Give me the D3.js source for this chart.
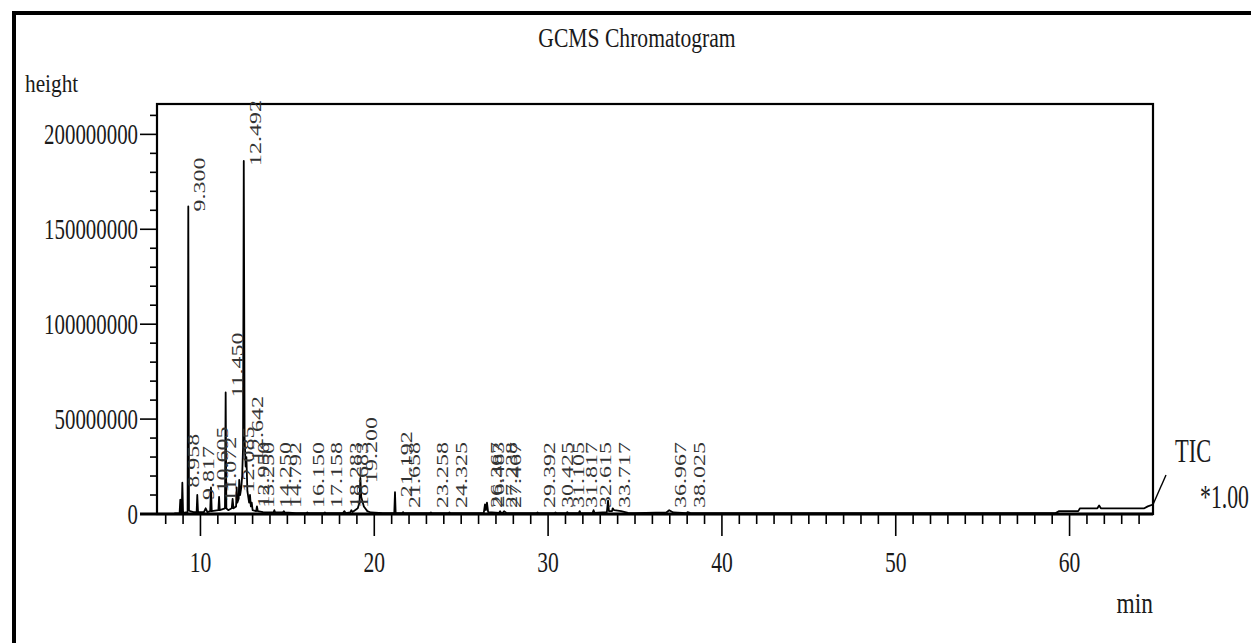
<!DOCTYPE html>
<html>
<head>
<meta charset="utf-8">
<script src="https://cdn.jsdelivr.net/npm/d3@7"></script>
<style>
  html, body { margin: 0; padding: 0; background: #fff; }
  svg { display: block; }
  text { font-family: "Liberation Serif", "DejaVu Serif", serif; fill: #1a1a1a; }
</style>
</head>
<body>
<svg id="chart" width="1251" height="643"></svg>
<script>
// ---------------- DATA ----------------
const title = "GCMS Chromatogram";
const yAxisTitle = "height";
const xAxisTitle = "min";
const traceName = "TIC";
const traceScale = "*1.00";

const xMajorTicks = [10, 20, 30, 40, 50, 60];
const xMinorTicks = [8, 9, 11, 12, 13, 14, 15, 16, 17, 18, 19, 21, 22, 23, 24, 25, 26, 27, 28, 29,
  31, 32, 33, 34, 35, 36, 37, 38, 39, 41, 42, 43, 44, 45, 46, 47, 48, 49,
  51, 52, 53, 54, 55, 56, 57, 58, 59, 61, 62, 63, 64];
const yMajorTicks = [0, 50000000, 100000000, 150000000, 200000000];
const yMinorTicks = [10000000, 20000000, 30000000, 40000000, 60000000, 70000000, 80000000, 90000000,
  110000000, 120000000, 130000000, 140000000, 160000000, 170000000, 180000000, 190000000, 210000000];

// TIC trace: retention time (min) and intensity (millions of counts)
const traceTimes = [
  8.50, 8.80, 8.84, 8.88, 8.92, 8.958, 9.00, 9.26, 9.300, 9.34, 9.40, 9.60, 9.78, 9.817, 9.86,
  10.20, 10.30, 10.40, 10.56, 10.605, 10.65, 11.03, 11.072, 11.11, 11.41, 11.450, 11.49, 11.60,
  11.80, 11.85, 11.90, 12.05, 12.085, 12.12, 12.20, 12.23, 12.28, 12.35, 12.40, 12.45, 12.492,
  12.54, 12.60, 12.642, 12.70, 12.80, 12.85, 12.90, 12.950, 13.00, 13.20, 13.250, 13.30, 13.60,
  14.20, 14.250, 14.30, 14.74, 14.792, 14.85, 15.50, 16.10, 16.150, 16.20, 17.10, 17.158, 17.20,
  18.20, 18.283, 18.35, 18.62, 18.683, 18.75, 19.05, 19.15, 19.200, 19.25, 19.40, 19.60, 19.80,
  20.50, 21.15, 21.192, 21.23, 21.60, 21.658, 21.70, 23.20, 23.258, 23.30, 24.27, 24.325, 24.37,
  26.30, 26.367, 26.42, 26.483, 26.55, 27.18, 27.238, 27.30, 27.40, 27.467, 27.60,
  29.34, 29.392, 29.44, 30.37, 30.425, 30.48, 31.05, 31.105, 31.15, 31.76, 31.817, 31.87,
  32.56, 32.615, 32.67, 33.38, 33.45, 33.50, 33.68, 33.717, 33.80, 34.20, 34.60, 35.00,
  36.80, 36.967, 37.20, 37.97, 38.025, 38.20, 59.20, 59.40, 60.50, 60.60, 61.60, 61.70, 61.80,
  64.30, 64.50, 64.80
];
const traceValues = [
  0.3, 0.5, 7.5, 0.6, 0.5, 16.5, 0.6, 1.0, 162.0, 2.0, 1.5, 1.0, 1.0, 10.0, 1.0,
  1.0, 3.0, 1.0, 1.5, 14.0, 1.5, 2.0, 9.0, 2.0, 3.0, 64.0, 3.0, 2.0,
  3.0, 8.0, 3.0, 4.0, 14.0, 6.0, 8.0, 18.0, 10.0, 14.0, 20.0, 35.0, 186.0,
  40.0, 25.0, 30.0, 12.0, 6.0, 10.0, 4.0, 6.0, 2.0, 1.5, 4.0, 1.5, 1.0,
  0.8, 2.0, 0.8, 0.8, 1.5, 0.8, 0.5, 0.5, 0.8, 0.5, 0.5, 0.8, 0.5,
  0.5, 1.5, 0.5, 0.8, 2.0, 1.0, 3.0, 6.0, 19.0, 9.0, 4.0, 1.5, 0.8,
  0.5, 0.5, 11.5, 0.5, 0.5, 1.0, 0.5, 0.5, 0.8, 0.5, 0.5, 0.8, 0.5,
  0.6, 5.0, 2.0, 6.0, 1.0, 0.6, 1.5, 0.6, 0.6, 1.5, 0.5,
  0.5, 0.8, 0.5, 0.5, 0.8, 0.5, 0.5, 1.0, 0.5, 0.5, 1.5, 0.5,
  0.5, 2.0, 0.6, 1.0, 7.0, 1.5, 1.5, 3.0, 2.0, 1.5, 0.6, 0.5,
  0.8, 2.0, 0.8, 0.5, 1.0, 0.5, 0.5, 1.5, 1.5, 3.0, 3.0, 4.5, 3.0,
  3.0, 4.0, 5.0
];

// Labelled peaks (retention times, printed as labels)
const peakLabels = [
  "8.958", "9.300", "9.817", "10.605", "11.072", "11.450", "12.085", "12.492", "12.642",
  "12.950", "13.250", "14.250", "14.792", "16.150", "17.158", "18.283", "18.683", "19.200",
  "21.192", "21.658", "23.258", "24.325", "26.367", "26.483", "27.238", "27.467",
  "29.392", "30.425", "31.105", "31.817", "32.615", "33.717", "36.967", "38.025"
];

// ---------------- CHART ----------------
const svg = d3.select("#chart");
const plot = { left: 157, right: 1153, top: 104, bottom: 514 };

const x = d3.scaleLinear().domain([7.5, 64.8]).range([plot.left, plot.right]);
const y = d3.scaleLinear().domain([0, 216000000]).range([plot.bottom, plot.top]);

// outer page frame (top and left edges)
svg.append("line").attr("x1", 12).attr("x2", 1251).attr("y1", 13).attr("y2", 13)
  .attr("stroke", "#000").attr("stroke-width", 4);
svg.append("line").attr("x1", 14).attr("x2", 14).attr("y1", 11).attr("y2", 643)
  .attr("stroke", "#000").attr("stroke-width", 4);

// helper for horizontally condensed text
function ctext(g, str, tx, ty, size, sx, anchor) {
  return g.append("text")
    .attr("transform", `translate(${tx},${ty}) scale(${sx},1)`)
    .attr("text-anchor", anchor || "start")
    .style("font-size", size + "px")
    .text(str);
}

// title & axis titles
ctext(svg, title, 637, 47, 27, 0.8, "middle");
ctext(svg, yAxisTitle, 25, 92, 26, 0.82, "start");
ctext(svg, xAxisTitle, plot.right, 613, 30, 0.78, "end");

// plot frame
svg.append("rect")
  .attr("x", plot.left).attr("y", plot.top)
  .attr("width", plot.right - plot.left).attr("height", plot.bottom - plot.top)
  .attr("fill", "none").attr("stroke", "#000").attr("stroke-width", 2.2);

// y axis
const yAxis = svg.append("g");
yAxis.selectAll("line.major").data(yMajorTicks).join("line")
  .attr("x1", 140).attr("x2", plot.left)
  .attr("y1", d => y(d)).attr("y2", d => y(d))
  .attr("stroke", "#000").attr("stroke-width", 1.6);
yAxis.selectAll("line.minor").data(yMinorTicks).join("line")
  .attr("x1", 150).attr("x2", plot.left)
  .attr("y1", d => y(d)).attr("y2", d => y(d))
  .attr("stroke", "#000").attr("stroke-width", 1.6);
yMajorTicks.forEach(d => ctext(yAxis, String(d), 138, y(d) + 10, 29, 0.72, "end"));

// x axis
const xAxis = svg.append("g");
xAxis.append("line").attr("x1", 140).attr("x2", plot.right)
  .attr("y1", plot.bottom).attr("y2", plot.bottom)
  .attr("stroke", "#000").attr("stroke-width", 3);
xAxis.selectAll("line.minor").data(xMinorTicks).join("line")
  .attr("x1", d => x(d)).attr("x2", d => x(d))
  .attr("y1", plot.bottom).attr("y2", plot.bottom + 10)
  .attr("stroke", "#000").attr("stroke-width", 1.6);
xAxis.selectAll("line.major").data(xMajorTicks).join("line")
  .attr("x1", d => x(d)).attr("x2", d => x(d))
  .attr("y1", plot.bottom).attr("y2", plot.bottom + 22)
  .attr("stroke", "#000").attr("stroke-width", 1.6);
xMajorTicks.forEach(d => ctext(xAxis, String(d), x(d), 572, 30, 0.72, "middle"));

// trace
const pts = traceTimes.map((t, i) => [t, traceValues[i] * 1e6]);
svg.append("path")
  .datum(pts)
  .attr("d", d3.line().x(d => x(d[0])).y(d => y(d[1])))
  .attr("fill", "none").attr("stroke", "#000").attr("stroke-width", 1.8)
  .attr("stroke-linejoin", "round");

// peak labels
const labelG = svg.append("g");
peakLabels.forEach(lbl => {
  const t = +lbl;
  let h = 0;
  pts.forEach(p => { if (Math.abs(p[0] - t) < 0.03 && p[1] > h) h = p[1]; });
  const lx = x(t) + 11;
  const ly = Math.min(y(h) + 5, 508);
  labelG.append("text")
    .attr("transform", `translate(${lx},${ly}) rotate(-90) scale(1,0.72)`)
    .attr("dy", "0.35em")
    .style("font-size", "24px")
    .style("fill", "#333")
    .text(lbl);
});

// TIC annotation
svg.append("line")
  .attr("x1", plot.right).attr("y1", y(traceValues[traceValues.length - 1] * 1e6))
  .attr("x2", 1166).attr("y2", 475)
  .attr("stroke", "#000").attr("stroke-width", 1.4);
ctext(svg, traceName, 1175, 462, 34, 0.66, "start");
ctext(svg, traceScale, 1200, 508, 34, 0.64, "start");
</script>
</body>
</html>
